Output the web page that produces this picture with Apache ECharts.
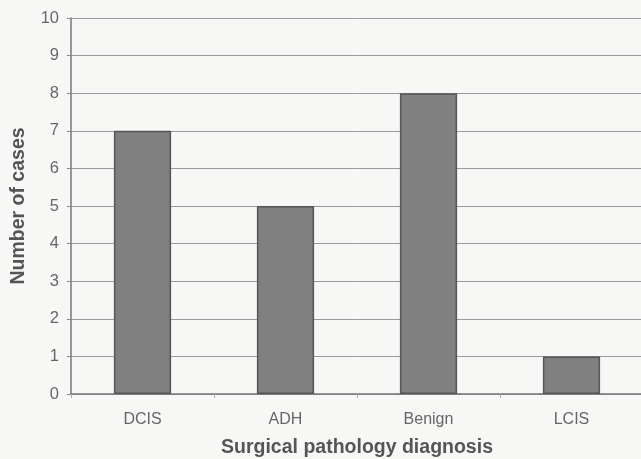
<!DOCTYPE html>
<html><head><meta charset="utf-8">
<script src="https://cdn.jsdelivr.net/npm/echarts@6/dist/echarts.min.js"></script>
<style>html,body{margin:0;padding:0;background:#f7f7f6;}#c{width:641px;height:459px;}</style>
</head><body><div id="c"></div>
<script>
const categories = ['DCIS', 'ADH', 'Benign', 'LCIS'];
const cases = [7, 5, 8, 1];
const yTicks = [0, 1, 2, 3, 4, 5, 6, 7, 8, 9, 10];

const chart = echarts.init(document.getElementById('c'));
chart.setOption({
  backgroundColor: '#f7f7f6',
  animation: false,
  grid: { left: 71, right: -2, top: 18, bottom: 65, containLabel: false, outerBoundsMode: 'none' },
  xAxis: {
    type: 'category', data: categories,
    name: 'Surgical pathology diagnosis', nameLocation: 'middle', nameGap: 44,
    nameTextStyle: { fontFamily: 'Liberation Sans, Arial', fontSize: 19.5, fontWeight: 'bold', color: '#555' },
    axisLine: { lineStyle: { color: '#777', width: 1.5 } },
    axisTick: { show: true, length: 4, lineStyle: { color: '#aaa' } },
    axisLabel: { fontFamily: 'Liberation Sans, Arial', fontSize: 16, color: '#666', margin: 18 }
  },
  yAxis: {
    type: 'value', min: 0, max: 10, interval: 1,
    name: 'Number of cases', nameLocation: 'middle', nameGap: 42,
    nameTextStyle: { fontFamily: 'Liberation Sans, Arial', fontSize: 19.5, fontWeight: 'bold', color: '#555' },
    axisLine: { show: true, lineStyle: { color: '#777', width: 1.5 } },
    axisTick: { show: true, length: 4, lineStyle: { color: '#888' } },
    axisLabel: { fontFamily: 'Liberation Sans, Arial', fontSize: 16.5, color: '#666', margin: 12,
      formatter: v => yTicks.includes(v) ? String(v) : '' },
    splitLine: { lineStyle: { color: '#9a9a9a', width: 1 } }
  },
  series: [{
    type: 'bar', data: cases, barWidth: '40%',
    itemStyle: { color: '#808080', borderColor: '#555', borderWidth: 1.5 }
  }]
});
</script></body></html>
